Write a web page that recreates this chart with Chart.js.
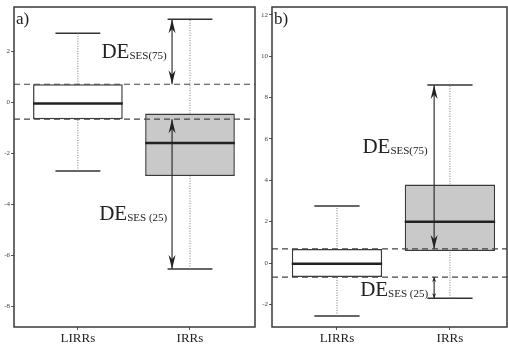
<!DOCTYPE html>
<html>
<head>
<meta charset="utf-8">
<script src="https://cdn.jsdelivr.net/npm/chart.js@4.4.0/dist/chart.umd.min.js"></script>
<style>
  html, body { margin: 0; padding: 0; background: #fff; }
  #wrap { position: relative; width: 508px; height: 345px; overflow: hidden; }
  .panel { position: absolute; top: 0; height: 345px; }
  #pa { left: 0; width: 256px; }
  #pb { left: 256px; width: 252px; }
</style>
</head>
<body>
<div id="wrap">
  <div class="panel" id="pa"><canvas id="chartA"></canvas></div>
  <div class="panel" id="pb"><canvas id="chartB"></canvas></div>
</div>
<script>
// DATA
const categories = ['LIRRs', 'IRRs'];

// panel a)
const aMin = [-2.7, -6.55];
const aQ1 = [-0.67, -2.9];
const aMedian = [-0.05, -1.6];
const aQ3 = [0.7, -0.45];
const aMax = [2.7, 3.25];
const aTicks = [-8, -6, -4, -2, 0, 2];

// panel b)
const bMin = [-2.56, -1.7];
const bQ1 = [-0.68, 0.58];
const bMedian = [-0.03, 2.0];
const bQ3 = [0.68, 3.8];
const bMax = [2.75, 8.6];
const bTicks = [-2, 0, 2, 4, 6, 8, 10, 12];

const SERIF = '"Liberation Serif", "DejaVu Serif", serif';
const INK = '#333';

function seg(x1, y1, x2, y2, style) {
  return Object.assign({
    type: 'line',
    data: [{ x: x1, y: y1 }, { x: x2, y: y2 }],
    borderColor: INK,
    borderWidth: 1.5,
    pointRadius: 0,
    fill: false,
    tension: 0,
    order: 1
  }, style);
}

function arrowHead(ctx, x, yTip, up, L, W) {
  const yBack = up ? yTip + L : yTip - L;
  const yNotch = up ? yTip + L * 0.7 : yTip - L * 0.7;
  ctx.beginPath();
  ctx.moveTo(x, yTip);
  ctx.lineTo(x - W / 2, yBack);
  ctx.lineTo(x, yNotch);
  ctx.lineTo(x + W / 2, yBack);
  ctx.closePath();
  ctx.fill();
}

// frame, arrow heads, DE labels, panel letter
const decorPlugin = {
  id: 'decor',
  afterDatasetsDraw(chart) {
    const o = chart.options.plugins.decor;
    const { ctx, chartArea: ca, scales: { x, y } } = chart;
    ctx.save();
    ctx.strokeStyle = '#3a3a3a';
    ctx.lineWidth = 1.5;
    ctx.strokeRect(ca.left, ca.top, ca.right - ca.left, ca.bottom - ca.top);

    ctx.fillStyle = '#222';
    o.arrows.forEach(a => {
      const px = x.getPixelForValue(o.arrowX);
      const p1 = y.getPixelForValue(a.from);
      const p2 = y.getPixelForValue(a.to);
      arrowHead(ctx, px, p1, p1 < p2, a.L, a.W);
      arrowHead(ctx, px, p2, p2 < p1, a.L, a.W);
    });

    ctx.textBaseline = 'alphabetic';
    ctx.textAlign = 'left';
    o.texts.forEach(t => {
      const px = x.getPixelForValue(t.x);
      const py = y.getPixelForValue(t.y);
      ctx.font = '21px ' + SERIF;
      ctx.fillText('DE', px, py);
      const w = ctx.measureText('DE').width;
      ctx.font = '11px ' + SERIF;
      ctx.fillText(t.sub, px + w, py + 1);
    });

    ctx.font = '17px ' + SERIF;
    ctx.fillText(o.letter, ca.left + 2, ca.top + 17);
    ctx.restore();
  }
};

function makeChart(id, p) {
  const datasets = [];
  categories.forEach((c, i) => {
    const cx = i + 1;
    datasets.push(seg(cx, p.q3[i], cx, p.max[i], { borderColor: '#777', borderWidth: 1, borderDash: [1, 1.5] }));
    datasets.push(seg(cx, p.min[i], cx, p.q1[i], { borderColor: '#777', borderWidth: 1, borderDash: [1, 1.5] }));
    datasets.push(seg(cx - 0.2, p.max[i], cx + 0.2, p.max[i], {}));
    datasets.push(seg(cx - 0.2, p.min[i], cx + 0.2, p.min[i], {}));
    datasets.push(seg(cx - 0.4, p.median[i], cx + 0.4, p.median[i], { borderColor: '#222', borderWidth: 2.5 }));
  });
  // reference lines at LIRRs quartiles
  [p.q3[0], p.q1[0]].forEach(v => {
    datasets.push(seg(p.xMin, v, p.xMax, v, { borderColor: '#444', borderWidth: 1.2, borderDash: [6, 4] }));
  });
  // DE arrows
  datasets.push(seg(p.arrowX, p.max[1], p.arrowX, p.q3[0], { borderColor: '#222', borderWidth: 1.1 }));
  datasets.push(seg(p.arrowX, p.q1[0], p.arrowX, p.min[1], { borderColor: '#222', borderWidth: 1.1 }));
  // boxes
  datasets.push({
    type: 'bar',
    data: categories.map((c, i) => ({ x: i + 1, y: [p.q1[i], p.q3[i]] })),
    backgroundColor: ['#ffffff', '#c9c9c9'],
    borderColor: '#3a3a3a',
    borderWidth: 1.5,
    borderSkipped: false,
    categoryPercentage: 0.8,
    barPercentage: 1,
    order: 3
  });

  return new Chart(document.getElementById(id), {
    type: 'bar',
    data: { datasets },
    options: {
      responsive: true,
      maintainAspectRatio: false,
      animation: false,
      layout: { padding: { top: 7, right: 1, left: 0, bottom: 0 } },
      plugins: {
        legend: { display: false },
        tooltip: { enabled: false },
        decor: {
          letter: p.letter,
          arrowX: p.arrowX,
          arrows: [
            { from: p.max[1], to: p.q3[0], L: p.bigHead[0], W: p.bigHead[1] },
            { from: p.q1[0], to: p.min[1], L: p.smallHead[0], W: p.smallHead[1] }
          ],
          texts: p.texts
        }
      },
      scales: {
        x: {
          type: 'linear',
          min: p.xMin,
          max: p.xMax,
          offset: false,
          grid: { display: true, drawOnChartArea: false, drawTicks: true, tickLength: 3, color: '#555', offset: false },
          border: { display: false },
          afterBuildTicks: s => { s.ticks = [{ value: 1 }, { value: 2 }]; },
          afterFit: s => { s.height = 18; },
          ticks: {
            autoSkip: false,
            maxRotation: 0,
            padding: 1,
            color: '#222',
            font: { family: SERIF, size: 13 },
            callback: v => categories[v - 1]
          }
        },
        y: {
          min: p.yMin,
          max: p.yMax,
          grid: { display: true, drawOnChartArea: false, drawTicks: true, tickLength: 3, color: '#555' },
          border: { display: false },
          afterBuildTicks: s => { s.ticks = p.ticks.map(v => ({ value: v })); },
          afterFit: s => { s.width = p.yWidth; },
          ticks: {
            padding: 1,
            color: '#444',
            font: { family: SERIF, size: 7 }
          }
        }
      }
    },
    plugins: [decorPlugin]
  });
}

makeChart('chartA', {
  letter: 'a)',
  min: aMin, q1: aQ1, median: aMedian, q3: aQ3, max: aMax, ticks: aTicks,
  yMin: -8.82, yMax: 3.73, xMin: 0.43, xMax: 2.58, yWidth: 14,
  arrowX: 1.84, bigHead: [14, 7], smallHead: [14, 7],
  texts: [
    { x: 1.21, y: 1.73, sub: 'SES(75)' },
    { x: 1.19, y: -4.63, sub: 'SES (25)' }
  ]
});

makeChart('chartB', {
  letter: 'b)',
  min: bMin, q1: bQ1, median: bMedian, q3: bQ3, max: bMax, ticks: bTicks,
  yMin: -3.09, yMax: 12.37, xMin: 0.425, xMax: 2.505, yWidth: 16,
  arrowX: 1.86, bigHead: [14, 7], smallHead: [5, 4],
  texts: [
    { x: 1.225, y: 5.31, sub: 'SES(75)' },
    { x: 1.205, y: -1.6, sub: 'SES (25)' }
  ]
});
</script>
</body>
</html>
